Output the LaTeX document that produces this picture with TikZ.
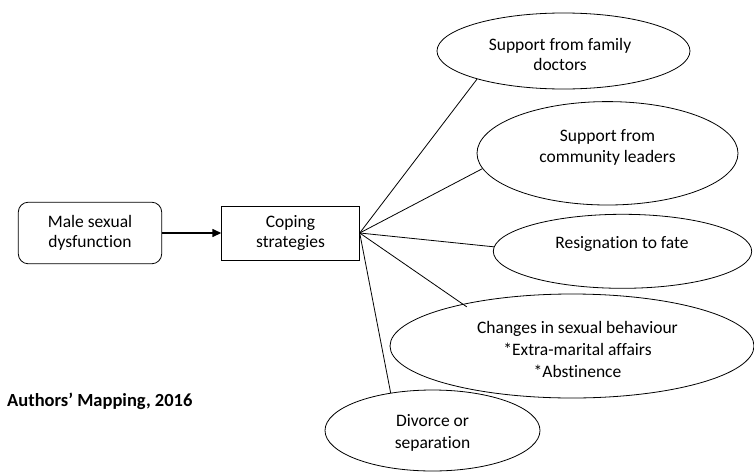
\documentclass[tikz,border=0pt]{standalone}
\usepackage{fontspec}
\setmainfont[Ligatures=NoCommon]{Carlito}
\usetikzlibrary{shapes.geometric,arrows.meta}
\newcommand{\fs}{\fontsize{17.5}{20.5}\selectfont}
\newcommand{\fsw}{\fontsize{17.5}{22}\selectfont}
\newcommand{\fsb}{\fontsize{18.5}{22}\selectfont}
\tikzset{
  boxnode/.style={draw, line width=0.8pt, align=center, font=\fs, inner sep=0pt},
  ellnode/.style={draw, ellipse, line width=0.8pt, inner sep=0pt},
  lbl/.style={align=center, font=\fs, inner sep=0pt},
  link/.style={line width=0.8pt},
  arr/.style={line width=1.4pt, -{Triangle[length=9pt,width=8pt]}}
}
\begin{document}
\begin{tikzpicture}[x=1pt,y=-1pt]
\useasboundingbox (0,0) rectangle (754,471);
\node[boxnode, rounded corners=10pt, minimum width=143.4pt, minimum height=61.6pt] (msd) at (90,233) {Male sexual\\dysfunction};
\node[boxnode, minimum width=137.6pt, minimum height=54pt] (cop) at (290.5,233) {Coping\\strategies};
\node[ellnode, minimum width=253pt, minimum height=76pt] (e1) at (563.5,51) {};
\node[ellnode, minimum width=261pt, minimum height=103.4pt] (e2) at (607.5,153.3) {};
\node[ellnode, minimum width=258.4pt, minimum height=74pt] (e3) at (622.5,251.3) {};
\node[ellnode, minimum width=364pt, minimum height=104pt] (e4) at (572,346) {};
\node[ellnode, minimum width=215pt, minimum height=81pt] (e5) at (432.5,430.5) {};
\node[lbl] (l1) at (560,54.5) {Support from family\\doctors};
\node[lbl] (l2) at (607.5,147.3) {Support from\\community leaders};
\node[lbl] (l3) at (622,243.5) {Resignation to fate};
\node[lbl, font=\fsw] (l4) at (577.5,349) {Changes in sexual behaviour\\*Extra-marital affairs\\*Abstinence};
\node[lbl, font=\fsw] (l5) at (432.5,433) {Divorce or\\separation};
\node[font=\fsb\bfseries, anchor=west, inner sep=0pt] (auth) at (7,401) {Authors’ Mapping, 2016};
\draw[arr] (msd.east) -- (cop.west);
\draw[link] (cop.east) -- (e1.198.6);
\draw[link] (cop.east) -- (e2.187);
\draw[link] (cop.east) -- (e3.178.3);
\draw[link, shorten >=-5pt] (cop.east) -- (e4.159.4);
\draw[link] (cop.east) -- (e5.138);
\end{tikzpicture}
\end{document}
